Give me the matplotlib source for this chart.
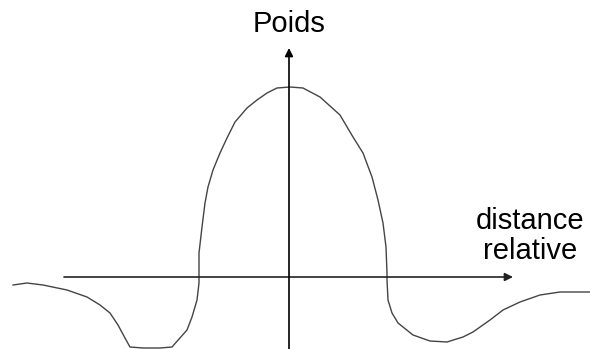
import numpy as np
import matplotlib.pyplot as plt

plt.rcParams['font.family'] = ['Liberation Sans', 'DejaVu Sans']

# courbe (distance relative, poids)
dist = [-2.76, -2.62, -2.46, -2.22, -2.02, -1.89, -1.79, -1.71, -1.64, -1.59,
        -1.46, -1.29, -1.17, -1.02, -0.97, -0.92, -0.90, -0.90, -0.87, -0.84,
        -0.81, -0.76, -0.69, -0.62, -0.54, -0.42, -0.32, -0.22, -0.12, 0.01,
        0.14, 0.31, 0.51, 0.64, 0.74, 0.83, 0.89, 0.94, 0.97, 0.98,
        0.98, 0.99, 1.03, 1.09, 1.24, 1.41, 1.58, 1.74, 1.84, 2.01,
        2.14, 2.31, 2.51, 2.71, 2.91, 3.01]
poids = [-0.08, -0.06, -0.08, -0.13, -0.20, -0.28, -0.36, -0.48, -0.61, -0.70,
         -0.71, -0.71, -0.70, -0.53, -0.40, -0.23, -0.06, 0.24, 0.50, 0.74,
         0.90, 1.07, 1.24, 1.39, 1.55, 1.69, 1.77, 1.84, 1.89, 1.90,
         1.89, 1.80, 1.62, 1.40, 1.24, 1.00, 0.77, 0.54, 0.30, 0.04,
         -0.03, -0.23, -0.36, -0.46, -0.58, -0.64, -0.65, -0.60, -0.55, -0.43,
         -0.33, -0.25, -0.18, -0.15, -0.15, -0.15]

fig = plt.figure(figsize=(5.9, 3.49), dpi=100, facecolor='w')
ax = fig.add_axes([0, 0, 1, 1])
ax.set_xlim(-2.89, 3.01)
ax.set_ylim(-0.72, 2.77)
ax.axis('off')

# axes avec fleches
ax.annotate('', xy=(2.24, 0), xytext=(-2.25, 0),
            arrowprops=dict(arrowstyle='-|>', color='#222222', lw=1.2,
                            mutation_scale=12, shrinkA=0, shrinkB=0))
ax.annotate('', xy=(0, 2.29), xytext=(0, -0.72),
            arrowprops=dict(arrowstyle='-|>', color='black', lw=1.2,
                            mutation_scale=12, shrinkA=0, shrinkB=0))

ax.plot(dist, poids, color='#444444', lw=1.0, solid_joinstyle='round')

ax.text(0, 2.53, 'Poids', ha='center', va='center', fontsize=21)
ax.text(2.41, 0.41, 'distance\nrelative', ha='center', va='center',
        fontsize=21, linespacing=1.1)

fig.savefig('out.png', dpi=100)
